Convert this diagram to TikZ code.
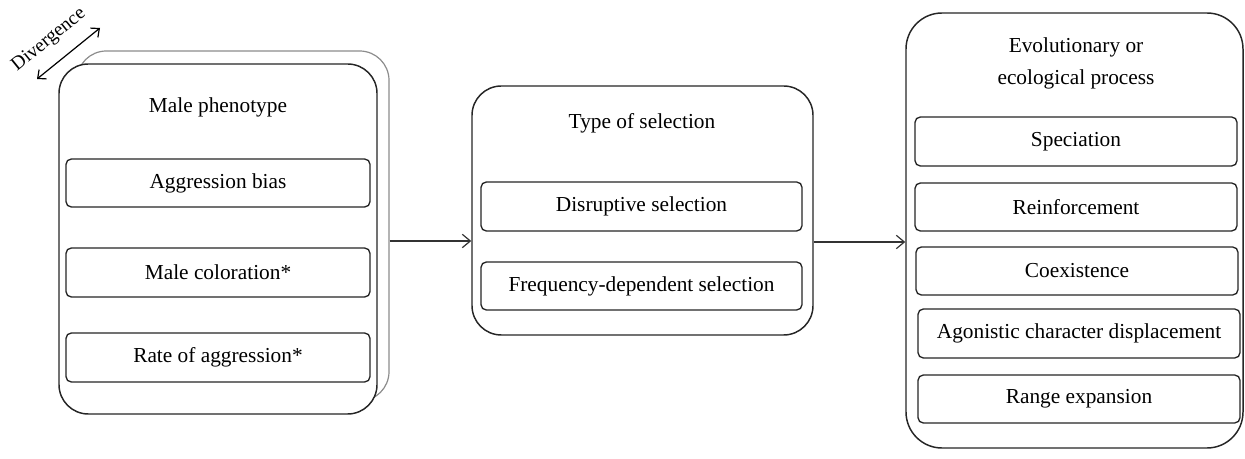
\documentclass[tikz,border=0pt]{standalone}
\usepackage{fontspec}
\setmainfont{Liberation Serif}
\usetikzlibrary{arrows.meta}
\begin{document}
\begin{tikzpicture}[x=0.75pt,y=-0.75pt,
  txt/.style={font=\fontsize{16}{19}\selectfont, inner sep=0pt},
  outerbox/.style={draw=black!85, line width=1.1pt, rounded corners=22pt, inner sep=0pt, fill=white},
  backbox/.style={draw=black!45, line width=0.9pt, rounded corners=22pt, inner sep=0pt},
  innerbox/.style={draw=black!85, line width=1pt, rounded corners=4pt, inner sep=0pt, fill=white, font=\fontsize{16}{19}\selectfont},
  arr/.style={draw=black!80, line width=0.9pt, -{Straight Barb[length=6pt,width=10pt]}},
  darr/.style={draw=black, line width=0.9pt, {Straight Barb[length=5pt,width=9pt]}-{Straight Barb[length=5pt,width=9pt]}}]
\useasboundingbox (0,0) rectangle (1245,459);
% left column
\node[backbox, minimum width=234pt, minimum height=262.5pt] (back) at (233,226) {};
\node[outerbox, minimum width=238.5pt, minimum height=262.5pt] (male) at (218,239) {};
\node[txt] (maletitle) at (218,107) {Male phenotype};
\node[innerbox, minimum width=228pt, minimum height=36pt] (agg) at (218,183) {Aggression bias};
\node[innerbox, minimum width=228pt, minimum height=36.75pt] (col) at (218,272.5) {Male coloration*};
\node[innerbox, minimum width=228pt, minimum height=36.75pt] (rate) at (218,357.5) {Rate of aggression*};
% divergence
\coordinate (d1) at (37,79);
\coordinate (d2) at (100,28);
\draw[darr] (d1) -- (d2);
\node[font=\fontsize{14.5}{17}\selectfont, inner sep=0pt, rotate=39] (div) at (49,40) {Divergence};
% middle column
\node[outerbox, minimum width=255.75pt, minimum height=186.75pt] (mid) at (642.5,210.5) {};
\node[txt] (midtitle) at (642,123) {Type of selection};
\node[innerbox, minimum width=240.75pt, minimum height=36.75pt] (dis) at (641.5,206.5) {Disruptive selection};
\node[innerbox, minimum width=240.75pt, minimum height=36pt] (freq) at (641.5,286) {Frequency-dependent selection};
% right column
\node[outerbox, rounded corners=27pt, minimum width=252.75pt, minimum height=326.25pt] (proc) at (1074.5,230.5) {};
\node[txt, align=center] (proctitle) at (1076,63.5) {Evolutionary or\\[5pt]ecological process};
\node[innerbox, minimum width=241.5pt, minimum height=36.75pt] (spec) at (1076,141.5) {Speciation};
\node[innerbox, minimum width=241.5pt, minimum height=36pt] (reinf) at (1076,207) {Reinforcement};
\node[innerbox, minimum width=241.5pt, minimum height=36pt] (coex) at (1077,271) {Coexistence};
\node[innerbox, minimum width=241.5pt, minimum height=36.75pt] (agon) at (1079,333.5) {Agonistic character displacement};
\node[innerbox, minimum width=241.5pt, minimum height=36pt] (range) at (1079,399) {Range expansion};
% connectors
\coordinate (a1) at (0,241);
\coordinate (a2) at (0,242);
\draw[arr] (back.east |- a1) -- (mid.west |- a1);
\draw[arr] (mid.east |- a2) -- (proc.west |- a2);
\end{tikzpicture}
\end{document}
